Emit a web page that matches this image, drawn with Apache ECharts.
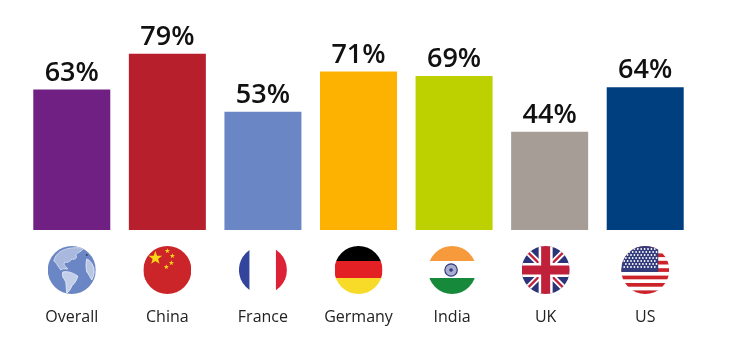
<!DOCTYPE html>
<html>
<head>
<meta charset="utf-8">
<title>Chart</title>
<script src="https://cdn.jsdelivr.net/npm/echarts@6/dist/echarts.min.js"></script>
<style>
  html, body { margin: 0; padding: 0; background: #fff; }
  #main { width: 735px; height: 351px; }
</style>
</head>
<body>
<div id="main"></div>
<script>
const categories = ["Overall", "China", "France", "Germany", "India", "UK", "US"];
const values = [63, 79, 53, 71, 69, 44, 64];
const barColors = ["#702082", "#b81f2d", "#6b86c4", "#fdb100", "#bdd000", "#a69d96", "#003f7f"];

// flags are small svg pictures, all on a 48x48 box
function star(cx, cy, r) {
  let pts = [];
  for (let i = 0; i < 10; i++) {
    const a = -Math.PI / 2 + i * Math.PI / 5;
    const rr = i % 2 ? r * 0.4 : r;
    pts.push((cx + rr * Math.cos(a)).toFixed(1) + "," + (cy + rr * Math.sin(a)).toFixed(1));
  }
  return '<polygon fill="#f9d616" points="' + pts.join(" ") + '"/>';
}

function usStars() {
  let s = "";
  for (let row = 0; row < 7; row++) {
    for (let col = 0; col < 10; col++) {
      s += '<circle cx="' + (3 + col * 3.4 + (row % 2) * 1.7) + '" cy="' + (3 + row * 3) + '" r="0.9" fill="#fff"/>';
    }
  }
  return s;
}

function usStripes() {
  let s = "";
  for (let i = 0; i < 7; i++) {
    s += '<rect x="0" y="' + (i * 7.4) + '" width="48" height="3.7" fill="#cc2229"/>';
  }
  return s;
}

const flagBodies = {
  Overall: '<rect width="48" height="48" fill="#6b86c4"/>' +
    // rough continents
    '<path fill="#a9b9de" stroke="#dfe6f4" stroke-width="0.8" d="M12 6C18 2 26 1 36 2C34 6 30 6 28 9C30 12 27 14 24 13C22 16 19 17 17 16C15 19 18 20 20 23C17 23 15 22 13 24C10 20 8 16 6 15C7 11 9 8 12 6Z"/>' +
    '<path fill="#c3cfe9" stroke="#eef1f9" stroke-width="0.8" d="M15 26C19 25 24 26 30 30C29 35 26 38 24 40C23 43 21 46 19 47C18 42 19 37 17 34C15 32 14 29 15 26Z"/>' +
    '<path fill="#b9c7e5" stroke="#eef1f9" stroke-width="0.8" d="M39 13C42 14 45 18 46 22C47 26 46 30 44 34C42 31 41 28 39 26C38 21 38 17 39 13Z"/>' +
    '<circle cx="39" cy="9" r="1" fill="#33415f"/>',
  China: '<rect width="48" height="48" fill="#cc2529"/>' + star(12, 12, 7.2) + star(24, 5, 2.7) + star(29, 10, 2.7) + star(28, 17, 2.7) + star(23, 21, 2.7),
  France: '<rect width="10.5" height="48" fill="#32449c"/><rect x="37" width="11" height="48" fill="#dd2237"/>',
  Germany: '<rect width="48" height="15" fill="#000"/><rect y="15" width="48" height="17" fill="#e32125"/><rect y="32" width="48" height="16" fill="#f8da29"/>',
  India: '<rect width="48" height="15" fill="#f79a3c"/><rect y="32" width="48" height="16" fill="#17893a"/>' +
    '<circle cx="23" cy="24" r="6.2" fill="#a9aed0"/><circle cx="23" cy="24" r="6.2" fill="none" stroke="#2f3a80" stroke-width="1.2"/><circle cx="23" cy="24" r="1.8" fill="#2f3a80"/>',
  UK: '<rect width="48" height="48" fill="#2b3379"/>' +
    '<path d="M0 0L48 48M48 0L0 48" stroke="#fff" stroke-width="6"/>' +
    '<path d="M0 0L48 48M48 0L0 48" stroke="#c1203a" stroke-width="2.4"/>' +
    '<rect x="17" width="14" height="48" fill="#fff"/><rect y="17" width="48" height="14" fill="#fff"/>' +
    '<rect x="19.5" width="9" height="48" fill="#c1203a"/><rect y="19.5" width="48" height="9" fill="#c1203a"/>',
  US: '<rect width="48" height="48" fill="#fff"/>' + usStripes() + '<rect width="37" height="26" fill="#333c7c"/>' + usStars()
};

function flagUri(name) {
  const svg = '<svg xmlns="http://www.w3.org/2000/svg" width="48" height="48" viewBox="0 0 48 48">' +
    '<clipPath id="c"><circle cx="24" cy="24" r="24"/></clipPath><g clip-path="url(#c)">' + flagBodies[name] + '</g></svg>';
  return "data:image/svg+xml;charset=utf-8," + encodeURIComponent(svg);
}

const labelFont = "'Open Sans', sans-serif";
const rich = {
  name: { fontFamily: labelFont, fontSize: 16, color: "#222", height: 28, lineHeight: 28, padding: [18, 0, 0, 0] },
  // india and uk sit a little left of their bars in the original
  gap2: { width: 4 },
  gap4: { width: 8 }
};
categories.forEach((c, i) => {
  rich["f" + i] = { backgroundColor: { image: flagUri(c) }, width: 48, height: 48, lineHeight: 48 };
});

function axisLabel(v, i) {
  let gap = "";
  if (v === "India") gap = "{gap2|}";
  if (v === "UK") gap = "{gap4|}";
  return "{f" + i + "|}" + gap + "\n{name|" + v + "}" + gap;
}

const chart = echarts.init(document.getElementById("main"));
chart.setOption({
  animation: false,
  backgroundColor: "#fff",
  grid: { left: 24, right: 42, top: 10, bottom: 121 },
  xAxis: {
    type: "category",
    data: categories,
    axisLine: { show: false },
    axisTick: { show: false },
    axisLabel: {
      interval: 0,
      margin: 16,
      formatter: axisLabel,
      rich: rich
    }
  },
  yAxis: { type: "value", min: 0, max: 98.6, show: false },
  series: [{
    type: "bar",
    barWidth: 77,
    data: values.map((v, i) => ({ value: v, itemStyle: { color: barColors[i] } })),
    label: {
      show: true,
      position: "top",
      distance: 3,
      formatter: "{c}%",
      fontFamily: labelFont,
      fontWeight: 600,
      fontSize: 27,
      color: "#111"
    }
  }]
});
</script>
</body>
</html>
